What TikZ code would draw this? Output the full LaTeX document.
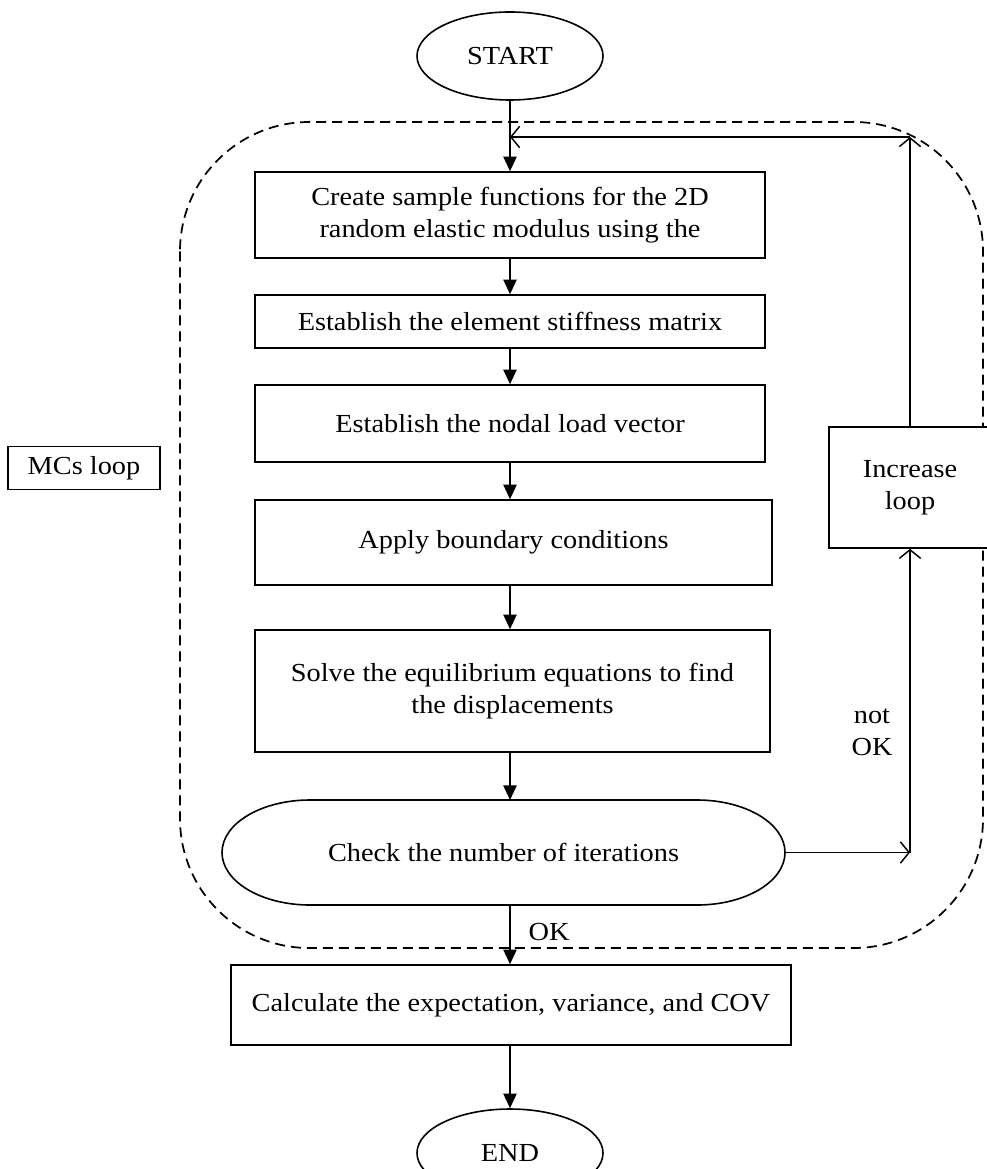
\documentclass[tikz,border=0pt]{standalone}
\usepackage{fontspec}
\setmainfont{Liberation Serif}[FakeStretch=1.09]
\usetikzlibrary{arrows.meta,shapes.geometric}
\begin{document}
\begin{tikzpicture}[x=0.75pt,y=-0.75pt,
  every node/.style={font=\fontsize{19.5}{24}\selectfont, align=center, inner sep=0pt},
  boxnode/.style={draw, line width=1.2pt, fill=white, rectangle},
  term/.style={draw, line width=1.2pt, fill=white, ellipse, minimum width=139.5pt, minimum height=66pt},
  flow/.style={line width=1.2pt, -{Triangle[length=11pt,width=10pt]}},
  back/.style={line width=1.1pt, -{Straight Barb[length=6.5pt,width=16pt,line width=1.1pt]}},
  region/.style={dash pattern=on 7.5pt off 4.5pt, line width=1.3pt, rounded corners=97pt}
]
\useasboundingbox (0,0) rectangle (987,1169);
% dashed MC region
\draw[region] (180,122) rectangle (983,948);

\node[term] (start) at (510,56) {START};
\node[boxnode, minimum width=382.5pt, minimum height=64.5pt] (b1) at (510,215)
  {Create sample functions for the 2D\\random elastic modulus using the};
\node[boxnode, minimum width=382.5pt, minimum height=39.75pt] (b2) at (510,321.5)
  {Establish the element stiffness matrix};
\node[boxnode, minimum width=382.5pt, minimum height=57.75pt] (b3) at (510,423.5)
  {Establish the nodal load vector};
\node[boxnode, minimum width=387.75pt, minimum height=63.75pt] (b4) at (513.5,542.5)
  {Apply boundary conditions};
\node[boxnode, minimum width=386.25pt, minimum height=91.5pt] (b5) at (512.5,691)
  {Solve the equilibrium equations to find\\the displacements};
\draw[line width=1.2pt, fill=white]
  (310,800) -- (697,800) arc[start angle=-90, end angle=90, x radius=88, y radius=52.5]
  -- (310,905) arc[start angle=90, end angle=270, x radius=88, y radius=52.5] -- cycle;
\node[minimum width=422.25pt, minimum height=78.75pt] (check) at (503.5,852.5)
  {Check the number of iterations};
\node[boxnode, minimum width=420pt, minimum height=60pt] (final) at (511,1005)
  {Calculate the expectation, variance, and COV};
\node[term] (end) at (510,1153) {END};
\node[boxnode, minimum width=121.5pt, minimum height=90.75pt] (inc) at (910,487.5)
  {Increase\\loop};
\node[boxnode, line width=0.8pt, minimum width=114pt, minimum height=32.25pt] (mcs) at (84,468)
  {MCs loop};
\node (notok) at (872,732) {not\\OK};
\node (ok) at (549,932) {OK};

\coordinate (cr) at (910,137);
\coordinate (jn) at (510,137);
\coordinate (ce) at (785,852.5);
\coordinate (cn) at (910,852.5);

\draw[flow] (start.south) -- (b1.north);
\draw[flow] (b1.south) -- (b2.north);
\draw[flow] (b2.south) -- (b3.north);
\draw[flow] (b3.south) -- (b3.south |- b4.north);
\draw[flow] (b3.south |- b4.south) -- (b3.south |- b5.north);
\draw[flow] (b3.south |- b5.south) -- (b3.south |- 0,800);
\draw[flow] (b3.south |- 0,905) -- (b3.south |- final.north);
\draw[flow] (b3.south |- final.south) -- (end.north);
\draw[back] (inc.north) -- (cr);
\draw[back] (cr) -- (jn);
\draw[back] (ce) -- (cn);
\draw[back] (cn) -- (inc.south);
\end{tikzpicture}
\end{document}
